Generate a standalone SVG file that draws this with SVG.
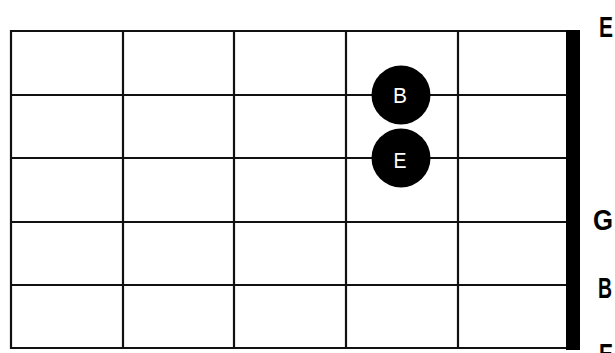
<svg xmlns="http://www.w3.org/2000/svg" width="615" height="353" viewBox="0 0 615 353">
<style>
.grid line{stroke:#111;stroke-width:2.2}
.dot circle{fill:#000}
.dot text{fill:#fff;font-family:"Liberation Sans",Arial,sans-serif;font-size:22px;text-anchor:middle}
.lbl{fill:#000;font-family:"Liberation Sans",Arial,sans-serif;font-weight:bold;font-size:29px}
</style>
<rect width="615" height="353" fill="#fff"/>
<g id="fretboard" class="grid">
<line x1="10" y1="31" x2="568" y2="31"/>
<line x1="10" y1="95" x2="568" y2="95"/>
<line x1="10" y1="158" x2="568" y2="158"/>
<line x1="10" y1="222" x2="568" y2="222"/>
<line x1="10" y1="285" x2="568" y2="285"/>
<line x1="10" y1="348" x2="568" y2="348"/>
<line x1="11" y1="30" x2="11" y2="349"/>
<line x1="123" y1="30" x2="123" y2="349"/>
<line x1="234" y1="30" x2="234" y2="349"/>
<line x1="346" y1="30" x2="346" y2="349"/>
<line x1="458" y1="30" x2="458" y2="349"/>
<rect x="566" y="30" width="14" height="320" fill="#000"/>
</g>
<g id="note-B" class="dot">
<circle cx="401" cy="95" r="29.5"/>
<text x="400" y="103" textLength="14" lengthAdjust="spacingAndGlyphs">B</text>
</g>
<g id="note-E" class="dot">
<circle cx="401" cy="158" r="29.5"/>
<text x="400" y="168" textLength="13" lengthAdjust="spacingAndGlyphs">E</text>
</g>
<g id="labels">
<text class="lbl" x="599" y="37" textLength="14" lengthAdjust="spacingAndGlyphs">E</text>
<text class="lbl" x="593" y="230" textLength="20" lengthAdjust="spacingAndGlyphs">G</text>
<text class="lbl" x="598" y="298" textLength="14" lengthAdjust="spacingAndGlyphs">B</text>
<text class="lbl" x="599" y="364" textLength="14" lengthAdjust="spacingAndGlyphs">E</text>
</g>
</svg>
